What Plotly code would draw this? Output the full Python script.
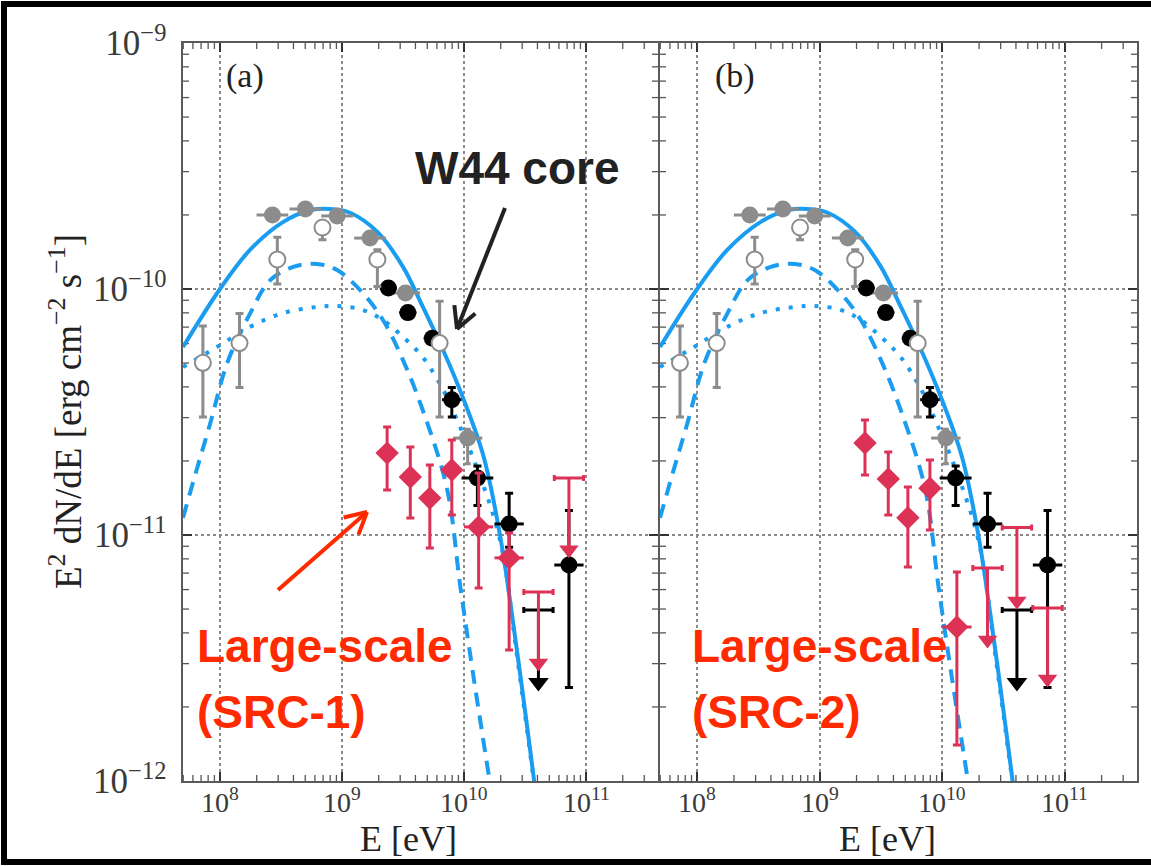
import numpy as np
import plotly.graph_objects as go

W, H = 1151, 866

# ---------------- data (log10 values) ----------------
# model curves: log10(E/eV), log10(E^2 dN/dE)
total_logE = [7.697, 8.00, 8.246, 8.516, 8.74, 8.90, 9.066, 9.29, 9.50, 9.66, 9.83, 9.99, 10.16, 10.295, 10.434, 10.58]
total_logF = [-10.236, -10.00, -9.841, -9.728, -9.68, -9.675, -9.69, -9.768, -9.91, -10.07, -10.25, -10.44, -10.68, -11.00, -11.47, -12.02]

pi0_logE = [7.697, 7.80, 7.918, 8.06, 8.246, 8.41, 8.60, 8.795, 8.96, 9.17, 9.336, 9.50, 9.66, 9.86, 9.97, 10.07, 10.22]
pi0_logF = [-10.93, -10.75, -10.55, -10.30, -10.10, -9.965, -9.91, -9.898, -9.923, -10.016, -10.126, -10.289, -10.49, -10.81, -11.21, -11.55, -12.03]

brems_logE = [7.697, 7.975, 8.246, 8.516, 8.795, 8.96, 9.17, 9.336, 9.50, 9.66, 9.83, 9.967, 10.10, 10.295, 10.434, 10.58]
brems_logF = [-10.317, -10.236, -10.154, -10.098, -10.073, -10.069, -10.085, -10.126, -10.195, -10.276, -10.41, -10.56, -10.72, -11.02, -11.49, -12.03]

# W44 core, grey filled points
gray_logE = [8.43, 8.70, 8.96, 9.23, 9.52, 10.03]
gray_logF = [-9.699, -9.675, -9.703, -9.793, -10.016, -10.606]
gray_hi = [-9.68, -9.66, -9.69, -9.78, -10.00, -10.57]
gray_lo = [-9.72, -9.69, -9.72, -9.81, -10.03, -10.71]
gray_dx = [0.13, 0.13, 0.13, 0.13, 0.12, 0.12]

# W44 core, open circles
open_logE = [7.86, 8.16, 8.47, 8.84, 9.29, 9.80]
open_logF = [-10.30, -10.22, -9.88, -9.75, -9.88, -10.22]
open_hi = [-10.15, -10.10, -9.79, -9.75, -9.84, -10.05]
open_lo = [-10.52, -10.40, -9.98, -9.80, -9.99, -10.52]

# W44 core, black points
black_logE = [9.38, 9.54, 9.74, 9.90, 10.11, 10.37, 10.86]
black_logF = [-9.996, -10.096, -10.20, -10.45, -10.768, -10.955, -11.122]
black_hi = [-9.98, -10.08, -10.18, -10.40, -10.72, -10.83, -10.90]
black_lo = [-10.01, -10.11, -10.22, -10.52, -10.88, -11.05, -11.62]
black_dx = [0.07, 0.07, 0.07, 0.08, 0.13, 0.12, 0.12]
black_ul_logE = [10.61]
black_ul_logF = [-11.305]
black_ul_arrow = [-11.60]

# Large-scale SRC-1 (panel a)
red_a_logE = [9.37, 9.56, 9.72, 9.90, 10.12, 10.37]
red_a_logF = [-10.667, -10.764, -10.85, -10.736, -10.967, -11.093]
red_a_hi = [-10.561, -10.642, -10.715, -10.614, -10.748, -10.992]
red_a_lo = [-10.817, -10.931, -11.053, -10.919, -11.215, -11.467]
red_a_dx = [0.08, 0.08, 0.08, 0.08, 0.12, 0.12]
red_a_ul_logE = [10.61, 10.86]
red_a_ul_logF = [-11.232, -10.768]
red_a_ul_arrow = [-11.52, -11.06]

# Large-scale SRC-2 (panel b)
red_b_logE = [9.37, 9.56, 9.72, 9.90, 10.12]
red_b_logF = [-10.626, -10.772, -10.93, -10.81, -11.374]
red_b_hi = [-10.533, -10.663, -10.805, -10.695, -11.15]
red_b_lo = [-10.756, -10.919, -11.13, -10.98, -11.854]
red_b_dx = [0.08, 0.08, 0.08, 0.08, 0.12]
red_b_ul_logE = [10.37, 10.61, 10.86]
red_b_ul_logF = [-11.134, -10.97, -11.297]
red_b_ul_arrow = [-11.427, -11.268, -11.585]

x_tick_exps = [8, 9, 10, 11]
y_tick_exps = [-12, -11, -10, -9]

# ---------------- styles ----------------
BLUE = "#1a9cf0"
GRAY = "#8c8c8c"
RED = "#dc3256"
TXT_RED = "#ff2a00"
SERIF = "Liberation Serif"
SANS = "Liberation Sans"
XR = [7.697, 11.59]
YR = [-12, -9]
PAN_W = 475.0  # px
PAN_H = 738.0  # px


def lin(a):
    return 10 ** np.asarray(a, dtype=float)


def yerr(F, hi, lo):
    return dict(type="data", symmetric=False,
                array=lin(hi) - lin(F), arrayminus=lin(F) - lin(lo))


def xerr(logE, dx):
    logE = np.asarray(logE, float)
    dx = np.asarray(dx, float)
    return dict(type="data", symmetric=False,
                array=lin(logE + dx) - lin(logE), arrayminus=lin(logE) - lin(logE - dx))


fig = go.Figure()


def minor_ticks(xa, ya):
    """small inside minor ticks on all four sides (axis decoration)"""
    lx = 6 / PAN_W * (XR[1] - XR[0])
    ly = 6 / PAN_H * (YR[1] - YR[0])
    xs, ys = [], []
    for d in range(YR[0], YR[1]):
        for m in range(2, 10):
            v = np.log10(m) + d
            for a, b in ((XR[0], XR[0] + lx), (XR[1], XR[1] - lx)):
                xs += [10 ** a, 10 ** b, None]
                ys += [10 ** v, 10 ** v, None]
    for d in range(7, 12):
        for m in range(2, 10):
            v = np.log10(m) + d
            if XR[0] < v < XR[1]:
                for a, b in ((YR[0], YR[0] + ly), (YR[1], YR[1] - ly)):
                    xs += [10 ** v, 10 ** v, None]
                    ys += [10 ** a, 10 ** b, None]
    fig.add_trace(go.Scatter(x=xs, y=ys, mode="lines", line=dict(color="#555", width=1.3),
                             xaxis=xa, yaxis=ya, showlegend=False, hoverinfo="skip", cliponaxis=False))


def add_panel(xa, ya, red_logE, red_logF, red_hi, red_lo, red_dx,
              rul_logE, rul_logF, rul_arrow):
    kw = dict(xaxis=xa, yaxis=ya, showlegend=False, hoverinfo="skip")
    minor_ticks(xa, ya)
    # model curves
    fig.add_trace(go.Scatter(x=lin(pi0_logE), y=lin(pi0_logF), mode="lines",
                             line=dict(color=BLUE, width=4, dash="14px,9px", shape="spline"), **kw))
    fig.add_trace(go.Scatter(x=lin(brems_logE), y=lin(brems_logF), mode="lines",
                             line=dict(color=BLUE, width=4, dash="4px,9px", shape="spline"), **kw))
    fig.add_trace(go.Scatter(x=lin(total_logE), y=lin(total_logF), mode="lines",
                             line=dict(color=BLUE, width=4, shape="spline"), **kw))
    # grey filled
    fig.add_trace(go.Scatter(x=lin(gray_logE), y=lin(gray_logF), mode="markers",
                             marker=dict(symbol="circle", size=17, color=GRAY),
                             error_y=dict(**yerr(gray_logF, gray_hi, gray_lo), color=GRAY, thickness=3, width=3),
                             error_x=dict(**xerr(gray_logE, gray_dx), color=GRAY, thickness=3, width=0), **kw))
    # black points
    fig.add_trace(go.Scatter(x=lin(black_logE), y=lin(black_logF), mode="markers",
                             marker=dict(symbol="circle", size=17, color="black"),
                             error_y=dict(**yerr(black_logF, black_hi, black_lo), color="black", thickness=3, width=4),
                             error_x=dict(**xerr(black_logE, black_dx), color="black", thickness=3, width=0), **kw))
    # black upper limit
    fig.add_trace(go.Scatter(x=lin(black_ul_logE), y=lin(black_ul_logF), mode="markers",
                             marker=dict(size=1, color="black"),
                             error_y=dict(type="data", symmetric=False, array=[0] * len(black_ul_logF),
                                          arrayminus=lin(black_ul_logF) - lin(black_ul_arrow),
                                          color="black", thickness=3, width=0),
                             error_x=dict(**xerr(black_ul_logE, [0.12] * len(black_ul_logE)),
                                          color="black", thickness=3, width=3), **kw))
    fig.add_trace(go.Scatter(x=lin(black_ul_logE), y=lin(black_ul_arrow), mode="markers",
                             marker=dict(symbol="triangle-down", size=18, color="black"), **kw))
    # open circles
    fig.add_trace(go.Scatter(x=lin(open_logE), y=lin(open_logF), mode="markers",
                             marker=dict(symbol="circle", size=16, color="white",
                                         line=dict(color=GRAY, width=2)),
                             error_y=dict(**yerr(open_logF, open_hi, open_lo), color=GRAY, thickness=3, width=4), **kw))
    # red points
    fig.add_trace(go.Scatter(x=lin(red_logE), y=lin(red_logF), mode="markers",
                             marker=dict(symbol="diamond", size=18, color=RED),
                             error_y=dict(**yerr(red_logF, red_hi, red_lo), color=RED, thickness=3, width=4),
                             error_x=dict(**xerr(red_logE, red_dx), color=RED, thickness=3, width=0), **kw))
    # red upper limits
    fig.add_trace(go.Scatter(x=lin(rul_logE), y=lin(rul_logF), mode="markers",
                             marker=dict(size=1, color=RED),
                             error_y=dict(type="data", symmetric=False, array=[0] * len(rul_logF),
                                          arrayminus=lin(rul_logF) - lin(rul_arrow),
                                          color=RED, thickness=3, width=0),
                             error_x=dict(**xerr(rul_logE, [0.12] * len(rul_logE)),
                                          color=RED, thickness=3, width=3), **kw))
    fig.add_trace(go.Scatter(x=lin(rul_logE), y=lin(rul_arrow), mode="markers",
                             marker=dict(symbol="triangle-down", size=17, color=RED), **kw))


add_panel("x", "y", red_a_logE, red_a_logF, red_a_hi, red_a_lo, red_a_dx,
          red_a_ul_logE, red_a_ul_logF, red_a_ul_arrow)
add_panel("x2", "y2", red_b_logE, red_b_logF, red_b_hi, red_b_lo, red_b_dx,
          red_b_ul_logE, red_b_ul_logF, red_b_ul_arrow)

axis_common = dict(
    type="log", showline=True, linecolor="#5a5a5a", linewidth=2, mirror="ticks",
    ticks="inside", ticklen=9, tickwidth=1.5, tickcolor="#333",
    showgrid=True, gridcolor="#8a8a8a", griddash="dot", gridwidth=1.5,
    zeroline=False, tickmode="linear", tick0=0, dtick=1, exponentformat="power",
    tickfont=dict(family=SERIF, size=28, color="#3a3a3a"),
    automargin=False,
)

fig.update_layout(
    width=W, height=H, margin=dict(l=0, r=0, t=0, b=0, autoexpand=False),
    paper_bgcolor="white", plot_bgcolor="white",
    xaxis=dict(**axis_common, range=XR, domain=[183 / W, 658 / W], anchor="y", showticklabels=False),
    xaxis2=dict(**axis_common, range=XR, domain=[660 / W, 1137 / W], anchor="y2", showticklabels=False),
    yaxis=dict(**axis_common, range=YR, domain=[1 - 781 / H, 1 - 43 / H], anchor="x"),
    yaxis2=dict(**axis_common, range=YR, domain=[1 - 781 / H, 1 - 43 / H], anchor="x2",
                showticklabels=False),
)
fig.update_yaxes(ticklabelstandoff=9)


def px(x):
    return x / W


def py(y):
    return 1 - y / H


ann = []


def text(x, y, s, size, color, family, bold=False, xanchor="center", angle=0):
    ann.append(dict(xref="paper", yref="paper", x=px(x), y=py(y), text=(f"<b>{s}</b>" if bold else s),
                    showarrow=False, xanchor=xanchor, yanchor="middle", textangle=angle,
                    font=dict(family=family, size=size, color=color)))


# x tick labels (placed under each decade tick)
for xa in ("x", "x2"):
    for e in x_tick_exps:
        ann.append(dict(xref=xa, yref="paper", x=e, y=py(800), text=f"10<sup>{e}</sup>",
                        showarrow=False, xanchor="center", yanchor="middle",
                        font=dict(family=SERIF, size=28, color="#3a3a3a")))

text(245, 76, "(a)", 34, "#222", SERIF)
text(735, 76, "(b)", 34, "#222", SERIF)
text(517, 168, "W44 core", 46, "#222", SANS, bold=True)
text(195, 646, "Large-scale", 46, TXT_RED, SANS, bold=True, xanchor="left")
text(195, 712, "(SRC-1)", 46, TXT_RED, SANS, bold=True, xanchor="left")
text(690, 646, "Large-scale", 46, TXT_RED, SANS, bold=True, xanchor="left")
text(690, 712, "(SRC-2)", 46, TXT_RED, SANS, bold=True, xanchor="left")
text(408, 839, "E [eV]", 36, "#222", SERIF)
text(887, 839, "E [eV]", 36, "#222", SERIF)
text(66, 412, "E<sup>2</sup> dN/dE [erg cm<sup>\u22122</sup> s<sup>\u22121</sup>]", 37, "#222", SERIF, angle=-90)

shapes = []


def arrow(x0, y0, x1, y1, color, width=4, head=24, ang=28):
    shapes.append(dict(type="line", xref="paper", yref="paper", x0=px(x0), y0=py(y0), x1=px(x1), y1=py(y1),
                       line=dict(color=color, width=width)))
    d = np.arctan2(y0 - y1, x0 - x1)
    for s in (-1, 1):
        a = d + s * np.radians(ang)
        shapes.append(dict(type="line", xref="paper", yref="paper", x0=px(x1), y0=py(y1),
                           x1=px(x1 + head * np.cos(a)), y1=py(y1 + head * np.sin(a)),
                           line=dict(color=color, width=width)))


arrow(505, 208, 457, 329, "#222")
arrow(278, 590, 367, 512, TXT_RED)

# outer black frame
shapes.append(dict(type="rect", xref="paper", yref="paper", x0=px(4), y0=py(862), x1=px(1160), y1=py(4),
                   line=dict(color="black", width=6), fillcolor="rgba(0,0,0,0)"))

fig.update_layout(annotations=ann, shapes=shapes)
fig.write_html("out.html")
